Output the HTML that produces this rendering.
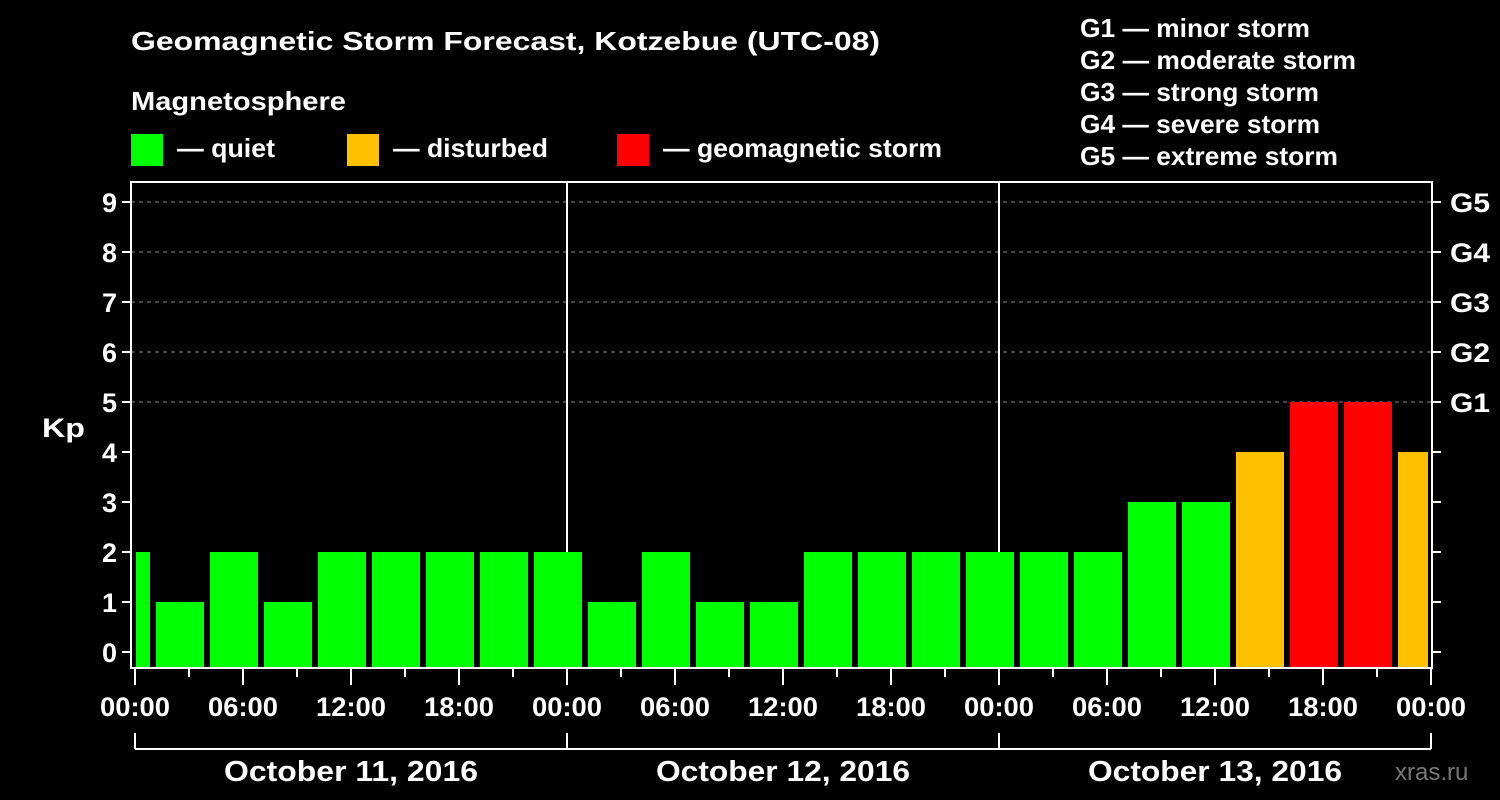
<!DOCTYPE html>
<html><head><meta charset="utf-8"><style>
html,body{margin:0;padding:0;background:#000;}
svg{display:block;font-family:"Liberation Sans",sans-serif;font-weight:bold;}
</style></head><body>
<svg id="chart" width="1500" height="800" viewBox="0 0 1500 800">
<text x="131" y="50" fill="#fff" font-size="26" textLength="749" lengthAdjust="spacingAndGlyphs">Geomagnetic Storm Forecast, Kotzebue (UTC-08)</text>
<text x="131" y="110" fill="#fff" font-size="26" textLength="215" lengthAdjust="spacingAndGlyphs">Magnetosphere</text>
<g><rect x="131" y="134" width="32" height="32" fill="#00ff00"/><text x="177" y="157" fill="#fff" font-size="26" textLength="98" lengthAdjust="spacingAndGlyphs">— quiet</text></g>
<g><rect x="347" y="134" width="32" height="32" fill="#ffc000"/><text x="393" y="157" fill="#fff" font-size="26" textLength="155" lengthAdjust="spacingAndGlyphs">— disturbed</text></g>
<g><rect x="617" y="134" width="32" height="32" fill="#ff0000"/><text x="663" y="157" fill="#fff" font-size="26" textLength="279" lengthAdjust="spacingAndGlyphs">— geomagnetic storm</text></g>
<g fill="#fff" font-size="26">
<text x="1080" y="37" textLength="230" lengthAdjust="spacingAndGlyphs">G1 — minor storm</text>
<text x="1080" y="69" textLength="276" lengthAdjust="spacingAndGlyphs">G2 — moderate storm</text>
<text x="1080" y="101" textLength="239" lengthAdjust="spacingAndGlyphs">G3 — strong storm</text>
<text x="1080" y="133" textLength="240" lengthAdjust="spacingAndGlyphs">G4 — severe storm</text>
<text x="1080" y="165" textLength="258" lengthAdjust="spacingAndGlyphs">G5 — extreme storm</text>
</g>
<text x="42" y="437" fill="#fff" font-size="27" textLength="43" lengthAdjust="spacingAndGlyphs">Kp</text>
<text x="1395" y="780" fill="#777" font-size="24" font-weight="normal">xras.ru</text>
<g id="plot"></g>
</svg>
<script>
const kpValues=[2,1,2,1,2,2,2,2,2,1,2,1,1,2,2,2,2,2,2,3,3,4,5,5,4];
const startHours=[-2,1,4,7,10,13,16,19,22,25,28,31,34,37,40,43,46,49,52,55,58,61,64,67,70];
const yTicks=[0,1,2,3,4,5,6,7,8,9];
const gLabels=["G1","G2","G3","G4","G5"];
const gLevels=[5,6,7,8,9];
const xLabels=["00:00","06:00","12:00","18:00","00:00","06:00","12:00","18:00","00:00","06:00","12:00","18:00","00:00"];
const dayLabels=["October 11, 2016","October 12, 2016","October 13, 2016"];
const NS="http://www.w3.org/2000/svg";
const X0=135,PXH=18,Y0=652,PXK=50,L=131,R=1432,T=182,B=668;
const xs=h=>X0+h*PXH, ys=v=>Y0-v*PXK;
const g=document.getElementById('plot');
function mk(tag,a){const e=document.createElementNS(NS,tag);for(const k in a)e.setAttribute(k,a[k]);g.appendChild(e);return e;}
for(const v of gLevels){const e=mk('line',{x1:L,x2:R,y1:ys(v),y2:ys(v),stroke:'#888','stroke-dasharray':'4,4'});

}
for(let d=1;d<3;d++){const e=mk('line',{x1:xs(24*d),x2:xs(24*d),y1:T,y2:B,stroke:'#fff','stroke-width':2});

}
kpValues.forEach((v,i)=>{let x1=xs(startHours[i])+3,x2=xs(startHours[i]+3)-3;x1=Math.max(x1,L+5);x2=Math.min(x2,R-4);
const c=v>=5?'#ff0000':(v>=4?'#ffc000':'#00ff00');
const e=mk('rect',{x:x1,y:ys(v),width:x2-x1,height:B-1-ys(v),fill:c});

});
const fr=mk('rect',{x:L,y:T,width:R-L,height:B-T,fill:'none',stroke:'#fff','stroke-width':2});


for(const v of yTicks){mk('line',{x1:L-9,x2:L,y1:ys(v),y2:ys(v),stroke:'#fff','stroke-width':2});
mk('line',{x1:R,x2:R+9,y1:ys(v),y2:ys(v),stroke:'#fff','stroke-width':2});
const t=mk('text',{x:L-14,y:ys(v)+10,fill:'#fff','font-size':27,'text-anchor':'end'});t.textContent=v;

}
gLabels.forEach((s,i)=>{const t=mk('text',{x:R+18,y:ys(gLevels[i])+10,fill:'#fff','font-size':27,textLength:40,lengthAdjust:'spacingAndGlyphs'});t.textContent=s;

});
for(let h=0;h<=72;h+=3){mk('line',{x1:xs(h),x2:xs(h),y1:B,y2:B+(h%6===0?17:9),stroke:'#fff','stroke-width':2});}
xLabels.forEach((s,i)=>{const t=mk('text',{x:xs(6*i),y:716,fill:'#fff','font-size':27,'text-anchor':'middle',textLength:70,lengthAdjust:'spacingAndGlyphs'});t.textContent=s;

});
mk('line',{x1:xs(0),x2:xs(72),y1:749,y2:749,stroke:'#fff','stroke-width':2});
for(let d=0;d<=3;d++)mk('line',{x1:xs(24*d),x2:xs(24*d),y1:733,y2:749,stroke:'#fff','stroke-width':2});
dayLabels.forEach((s,i)=>{const t=mk('text',{x:xs(24*i+12),y:781,fill:'#fff','font-size':29,'text-anchor':'middle',textLength:254,lengthAdjust:'spacingAndGlyphs'});t.textContent=s;

});
</script>
</body></html>
